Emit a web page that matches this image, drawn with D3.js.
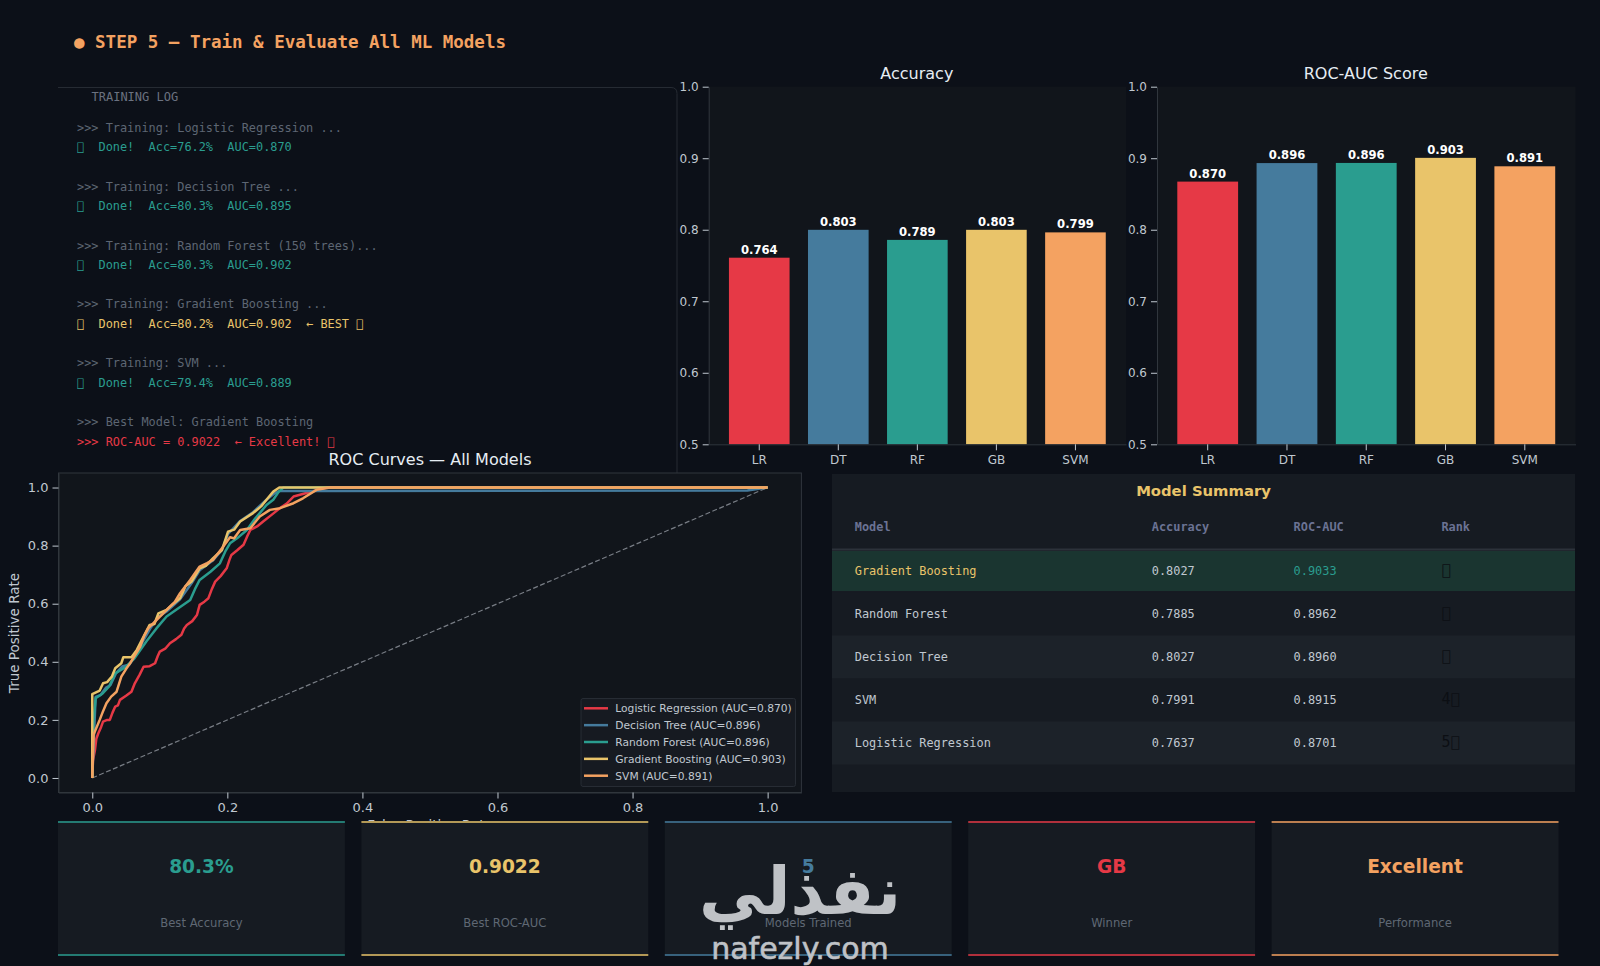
<!DOCTYPE html>
<html>
<head>
<meta charset="utf-8">
<title>STEP 5</title>
<script src="https://cdn.jsdelivr.net/npm/d3@7"></script>
<style>
html, body { margin: 0; padding: 0; background: #0c1018; }
svg { display: block; }
text { font-family: "DejaVu Sans", sans-serif; }
.mono { font-family: "DejaVu Sans Mono", monospace; }
</style>
</head>
<body>
<svg id="chart" width="1600" height="966"></svg>
<script>
var modelCodes = ["LR", "DT", "RF", "GB", "SVM"];
var modelNames = ["Logistic Regression", "Decision Tree", "Random Forest", "Gradient Boosting", "SVM"];
var modelColors = ["#e63946", "#457b9d", "#2a9d8f", "#e9c46a", "#f4a261"];
var accuracy = [0.7637, 0.8027, 0.7886, 0.8027, 0.7991];
var rocAuc = [0.8701, 0.8960, 0.8962, 0.9033, 0.8915];
var barTicks = [0.5, 0.6, 0.7, 0.8, 0.9, 1.0];
var rocTicks = [0, 0.2, 0.4, 0.6, 0.8, 1.0];

/* roc curves: [fpr, tpr] */
var rocLR = [[0,0],[0.001,0.06],[0.004,0.096],[0.006,0.135],[0.009,0.154],[0.013,0.175],[0.016,0.194],[0.022,0.2],[0.026,0.2],[0.03,0.225],[0.034,0.246],[0.038,0.25],[0.041,0.269],[0.05,0.283],[0.058,0.297],[0.063,0.326],[0.07,0.355],[0.076,0.383],[0.085,0.385],[0.093,0.395],[0.097,0.42],[0.1,0.435],[0.108,0.445],[0.115,0.464],[0.124,0.478],[0.132,0.493],[0.136,0.515],[0.14,0.527],[0.148,0.54],[0.155,0.561],[0.159,0.596],[0.166,0.607],[0.172,0.619],[0.177,0.65],[0.182,0.676],[0.19,0.695],[0.199,0.722],[0.203,0.75],[0.206,0.768],[0.215,0.785],[0.224,0.803],[0.229,0.83],[0.234,0.854],[0.244,0.866],[0.253,0.883],[0.265,0.905],[0.278,0.929],[0.288,0.945],[0.298,0.969],[0.317,0.981],[0.347,1],[1,1]];
var rocDT = [[0,0],[0.003,0.17],[0.005,0.279],[0.012,0.285],[0.02,0.31],[0.027,0.32],[0.035,0.36],[0.045,0.385],[0.055,0.39],[0.066,0.43],[0.076,0.475],[0.086,0.515],[0.098,0.555],[0.11,0.573],[0.13,0.615],[0.147,0.67],[0.159,0.715],[0.179,0.75],[0.192,0.785],[0.201,0.84],[0.219,0.885],[0.238,0.915],[0.258,0.958],[0.27,0.98],[0.277,0.988],[0.34,0.988],[0.97,0.99],[1,1]];
var rocRF = [[0,0],[0.002,0.2],[0.005,0.275],[0.015,0.29],[0.025,0.315],[0.034,0.36],[0.048,0.38],[0.062,0.41],[0.08,0.47],[0.095,0.515],[0.11,0.556],[0.128,0.585],[0.145,0.613],[0.152,0.65],[0.159,0.682],[0.175,0.71],[0.189,0.739],[0.197,0.78],[0.204,0.808],[0.217,0.83],[0.229,0.854],[0.24,0.89],[0.248,0.912],[0.258,0.94],[0.268,0.958],[0.276,0.985],[0.283,1],[1,1]];
var rocGB = [[0,0],[0,0.289],[0.011,0.301],[0.016,0.326],[0.022,0.33],[0.029,0.349],[0.034,0.378],[0.043,0.395],[0.046,0.416],[0.058,0.416],[0.066,0.441],[0.076,0.487],[0.085,0.527],[0.092,0.53],[0.098,0.567],[0.11,0.579],[0.12,0.6],[0.13,0.619],[0.138,0.66],[0.147,0.676],[0.159,0.722],[0.168,0.73],[0.179,0.757],[0.192,0.785],[0.197,0.82],[0.201,0.848],[0.21,0.855],[0.219,0.883],[0.238,0.912],[0.25,0.935],[0.258,0.958],[0.268,0.986],[0.277,1],[1,1]];
var rocSVM = [[0,0],[0.002,0.15],[0.011,0.2],[0.016,0.23],[0.021,0.257],[0.028,0.28],[0.036,0.297],[0.043,0.349],[0.05,0.375],[0.056,0.395],[0.071,0.452],[0.077,0.49],[0.083,0.516],[0.098,0.55],[0.115,0.59],[0.122,0.605],[0.13,0.636],[0.145,0.682],[0.159,0.728],[0.17,0.74],[0.179,0.751],[0.194,0.797],[0.204,0.829],[0.21,0.825],[0.219,0.854],[0.234,0.86],[0.248,0.9],[0.263,0.923],[0.278,0.929],[0.298,0.946],[0.312,0.963],[0.332,0.992],[0.352,1],[1,1]];
var rocSeries = [rocLR, rocDT, rocRF, rocGB, rocSVM];

var TOFU = "\uE000"; // the picture shows empty boxes where its emoji failed

var logLines = [
    ">>> Training: Logistic Regression ...",
    TOFU + "  Done!  Acc=76.2%  AUC=0.870",
    "",
    ">>> Training: Decision Tree ...",
    TOFU + "  Done!  Acc=80.3%  AUC=0.895",
    "",
    ">>> Training: Random Forest (150 trees)...",
    TOFU + "  Done!  Acc=80.3%  AUC=0.902",
    "",
    ">>> Training: Gradient Boosting ...",
    TOFU + "  Done!  Acc=80.2%  AUC=0.902  ← BEST " + TOFU,
    "",
    ">>> Training: SVM ...",
    TOFU + "  Done!  Acc=79.4%  AUC=0.889",
    "",
    ">>> Best Model: Gradient Boosting",
    ">>> ROC-AUC = 0.9022  ← Excellent! " + TOFU
];
var logKinds = ["info","ok","","info","ok","","info","ok","","info","best","","info","ok","","info","alert"];

var tableHeader = ["Model", "Accuracy", "ROC-AUC", "Rank"];
var tableOrder = [3, 2, 1, 4, 0];
var tableAccuracy = ["0.8027", "0.7885", "0.8027", "0.7991", "0.7637"];
var tableAuc = ["0.9033", "0.8962", "0.8960", "0.8915", "0.8701"];
var tableRank = [TOFU, TOFU, TOFU, "4" + TOFU, "5" + TOFU];

var cardValues = ["80.3%", "0.9022", "5", "GB", "Excellent"];
var cardLabels = ["Best Accuracy", "Best ROC-AUC", "Models Trained", "Winner", "Performance"];
var cardColors = ["#2a9d8f", "#e9c46a", "#457b9d", "#e63946", "#f4a261"];

var TICK_COLOR = "#c0c8d0";
var SPINE_COLOR = "#30363d";
var PANEL_COLOR = "#11151b";
var CARD_COLOR = "#161b22";
var BAR_TOP_NUDGE = 2; // bars in the picture stop about 2px under their value

var svg = d3.select("#chart");

svg.append("rect").attr("width", 1600).attr("height", 966).attr("fill", "#0c1018");

svg.append("text").attr("class", "mono")
    .attr("x", 74).attr("y", 48)
    .attr("fill", "#f4a261").attr("font-size", 17.5).attr("font-weight", "bold")
    .text("● STEP 5 — Train & Evaluate All ML Models");

/* training log */
svg.append("path")
    .attr("d", "M58,87.5H671Q677,87.5 677,93.5V473")
    .attr("fill", "none").attr("stroke", "#262b33").attr("stroke-width", 1);

svg.append("text").attr("class", "mono")
    .attr("x", 91.5).attr("y", 101)
    .attr("fill", "#6b7280").attr("font-size", 12)
    .text("TRAINING LOG");

var logColor = { info: "#5d6673", ok: "#2a9d8f", best: "#e9c46a", alert: "#e63946" };
var logY = d3.scaleLinear().domain([0, logLines.length - 1]).range([131.7, 446]);

svg.append("g").selectAll("text").data(logLines).join("text")
    .attr("class", "mono")
    .style("white-space", "pre")
    .attr("x", 77)
    .attr("y", function (d, i) { return logY(i); })
    .attr("font-size", 11.9)
    .attr("fill", function (d, i) { return logColor[logKinds[i]] || "none"; })
    .text(function (d) { return d; });

/* accuracy and auc bars */
function styleAxis(g, size) {
    g.selectAll(".domain").attr("stroke", SPINE_COLOR);
    g.selectAll(".tick line").attr("stroke", TICK_COLOR);
    g.selectAll(".tick text").attr("fill", TICK_COLOR).attr("font-size", size)
        .attr("font-family", "'DejaVu Sans', sans-serif");
}

function drawBars(options) {
    var x = d3.scaleBand().domain(modelCodes).range([options.left, options.right])
        .paddingInner(0.233).paddingOuter(0.256);
    var y = d3.scaleLinear().domain([0.5, 1.0]).range([444.3, 86.7]);

    svg.append("rect")
        .attr("x", options.left).attr("y", 86.7)
        .attr("width", options.right - options.left).attr("height", 444.3 - 86.7)
        .attr("fill", PANEL_COLOR);

    var g = svg.append("g");
    g.selectAll("rect").data(options.values).join("rect")
        .attr("x", function (d, i) { return x(modelCodes[i]); })
        .attr("y", function (d) { return y(d) + BAR_TOP_NUDGE; })
        .attr("width", x.bandwidth())
        .attr("height", function (d) { return y(0.5) - y(d) - BAR_TOP_NUDGE; })
        .attr("fill", function (d, i) { return modelColors[i]; });

    g.selectAll("text").data(options.values).join("text")
        .attr("x", function (d, i) { return x(modelCodes[i]) + x.bandwidth() / 2; })
        .attr("y", function (d) { return y(d) + BAR_TOP_NUDGE - 4; })
        .attr("text-anchor", "middle")
        .attr("fill", "#ffffff").attr("font-size", 11.6).attr("font-weight", "bold")
        .text(function (d) { return d.toFixed(3); });

    svg.append("g").attr("transform", "translate(" + options.left + ",0)")
        .call(d3.axisLeft(y).tickValues(barTicks).tickFormat(d3.format(".1f")).tickSizeOuter(0).tickPadding(4))
        .call(styleAxis, 12);

    svg.append("g").attr("transform", "translate(0,444.3)")
        .call(d3.axisBottom(x).tickSizeOuter(0).tickPadding(5))
        .call(styleAxis, 12);

    svg.append("text")
        .attr("x", (options.left + options.right) / 2 - 0.5).attr("y", 79)
        .attr("text-anchor", "middle")
        .attr("fill", "#e6edf3").attr("font-size", 16)
        .text(options.title);
}

drawBars({ title: "Accuracy", values: accuracy, left: 708.7, right: 1126 });
drawBars({ title: "ROC-AUC Score", values: rocAuc, left: 1157, right: 1575.5 });

/* roc curves */
var rocX = d3.scaleLinear().domain([-0.05, 1.05]).range([58.5, 801.4]);
var rocY = d3.scaleLinear().domain([-0.05, 1.05]).range([792.5, 473]);

svg.append("rect")
    .attr("x", rocX.range()[0]).attr("y", rocY.range()[1])
    .attr("width", rocX.range()[1] - rocX.range()[0]).attr("height", rocY.range()[0] - rocY.range()[1])
    .attr("fill", PANEL_COLOR).attr("stroke", SPINE_COLOR).attr("stroke-width", 1);

svg.append("g").attr("transform", "translate(58.5,0)")
    .call(d3.axisLeft(rocY).tickValues(rocTicks).tickFormat(d3.format(".1f")).tickSizeOuter(0).tickPadding(4))
    .call(styleAxis, 13);

svg.append("g").attr("transform", "translate(0,792.5)")
    .call(d3.axisBottom(rocX).tickValues(rocTicks).tickFormat(d3.format(".1f")).tickSizeOuter(0).tickPadding(4))
    .call(styleAxis, 13);

var rocLine = d3.line()
    .x(function (d) { return rocX(d[0]); })
    .y(function (d) { return rocY(d[1]); });

svg.append("path")
    .attr("d", rocLine([[0, 0], [1, 1]]))
    .attr("fill", "none").attr("stroke", "#787d85").attr("stroke-width", 1.2)
    .attr("stroke-dasharray", "5,2.5");

svg.append("g").selectAll("path").data(rocSeries).join("path")
    .attr("d", rocLine)
    .attr("fill", "none")
    .attr("stroke", function (d, i) { return modelColors[i]; })
    .attr("stroke-width", 2.5)
    .attr("stroke-linejoin", "round");

svg.append("text")
    .attr("x", 430).attr("y", 465)
    .attr("text-anchor", "middle")
    .attr("fill", "#e6edf3").attr("font-size", 16)
    .text("ROC Curves — All Models");

svg.append("text")
    .attr("transform", "translate(19,633) rotate(-90)")
    .attr("text-anchor", "middle")
    .attr("fill", TICK_COLOR).attr("font-size", 13.5)
    .text("True Positive Rate");

svg.append("text")
    .attr("x", 430).attr("y", 830)
    .attr("text-anchor", "middle")
    .attr("fill", TICK_COLOR).attr("font-size", 13.5)
    .text("False Positive Rate");

/* legend */
var legend = svg.append("g");
legend.append("rect")
    .attr("x", 581).attr("y", 698.5).attr("width", 214.5).attr("height", 88).attr("rx", 2)
    .attr("fill", "#161a21").attr("stroke", "#272c34");

var legendY = d3.scaleLinear().domain([0, 4]).range([708.3, 775.7]);
var legendAuc = ["0.870", "0.896", "0.896", "0.903", "0.891"];

legend.selectAll("line").data(modelNames).join("line")
    .attr("x1", 584).attr("x2", 608)
    .attr("y1", function (d, i) { return legendY(i); })
    .attr("y2", function (d, i) { return legendY(i); })
    .attr("stroke", function (d, i) { return modelColors[i]; })
    .attr("stroke-width", 2.5);

legend.selectAll("text").data(modelNames).join("text")
    .attr("x", 615.3)
    .attr("y", function (d, i) { return legendY(i) + 3.8; })
    .attr("fill", TICK_COLOR).attr("font-size", 10.7)
    .text(function (d, i) { return d + " (AUC=" + legendAuc[i] + ")"; });

/* summary table */
svg.append("rect")
    .attr("x", 832).attr("y", 474).attr("width", 743).attr("height", 318)
    .attr("fill", CARD_COLOR);

svg.append("text")
    .attr("x", 1203.5).attr("y", 496)
    .attr("text-anchor", "middle")
    .attr("fill", "#e9c46a").attr("font-size", 14.8).attr("font-weight", "bold")
    .text("Model Summary");

var columnX = [854.8, 1151.8, 1293.6, 1441.4];

svg.append("g").selectAll("text").data(tableHeader).join("text")
    .attr("class", "mono")
    .attr("x", function (d, i) { return columnX[i]; })
    .attr("y", 530.5)
    .attr("fill", "#6b7394").attr("font-size", 11.9).attr("font-weight", "bold")
    .text(function (d) { return d; });

svg.append("line")
    .attr("x1", 832).attr("x2", 1575).attr("y1", 549.5).attr("y2", 549.5)
    .attr("stroke", "#2c323a").attr("stroke-width", 2);

var rowBands = d3.scaleBand().domain(d3.range(tableOrder.length)).range([549.5, 764.5]);
var rowFill = ["#1a3530", "#161b22", "#1c2229", "#161b22", "#1c2229"];
var rows = svg.append("g").selectAll("g").data(tableOrder).join("g")
    .attr("transform", function (d, i) { return "translate(0," + rowBands(i) + ")"; });

rows.append("rect")
    .attr("x", 832)
    .attr("y", function (d, i) { return i === 0 ? 1.5 : 0; })
    .attr("width", 743)
    .attr("height", function (d, i) { return i === 0 ? 40 : rowBands.bandwidth(); })
    .attr("fill", function (d, i) { return rowFill[i]; });

function rowText(column, size, textFn, colorFn) {
    rows.append("text").attr("class", "mono")
        .attr("x", columnX[column])
        .attr("y", rowBands.bandwidth() / 2 + 4.3)
        .attr("font-size", size)
        .attr("fill", colorFn)
        .text(textFn);
}

rowText(0, 11.9, function (d) { return modelNames[d]; }, function (d, i) { return i === 0 ? "#e9c46a" : TICK_COLOR; });
rowText(1, 11.9, function (d, i) { return tableAccuracy[i]; }, function () { return TICK_COLOR; });
rowText(2, 11.9, function (d, i) { return tableAuc[i]; }, function (d, i) { return i === 0 ? "#2a9d8f" : TICK_COLOR; });
rowText(3, 15, function (d, i) { return tableRank[i]; }, function () { return "#0c0f14"; });

/* bottom cards */
var cardX = d3.scaleBand().domain(d3.range(cardValues.length)).range([58, 1558.5]).paddingInner(0.0545);
var cards = svg.append("g").selectAll("g").data(cardValues).join("g")
    .attr("transform", function (d, i) { return "translate(" + cardX(i) + ",821)"; });

cards.append("rect")
    .attr("width", cardX.bandwidth()).attr("height", 134.5)
    .attr("fill", CARD_COLOR);

cards.append("line")
    .attr("x2", cardX.bandwidth()).attr("y1", 1).attr("y2", 1)
    .attr("stroke", function (d, i) { return cardColors[i]; }).attr("stroke-width", 1.5);

cards.append("line")
    .attr("x2", cardX.bandwidth()).attr("y1", 134).attr("y2", 134)
    .attr("stroke", function (d, i) { return cardColors[i]; }).attr("stroke-width", 1.5);

cards.append("text")
    .attr("x", cardX.bandwidth() / 2).attr("y", 51.5)
    .attr("text-anchor", "middle")
    .attr("fill", function (d, i) { return cardColors[i]; })
    .attr("font-size", 18.6).attr("font-weight", "bold")
    .text(function (d) { return d; });

cards.append("text")
    .attr("x", cardX.bandwidth() / 2).attr("y", 106)
    .attr("text-anchor", "middle")
    .attr("fill", "#5f6874").attr("font-size", 11.6)
    .text(function (d, i) { return cardLabels[i]; });

/* site mark over the cards */
svg.append("text")
    .attr("x", 800).attr("y", 914)
    .attr("text-anchor", "middle").attr("direction", "rtl")
    .attr("fill", "#bfc2c6").attr("font-size", 66).attr("font-weight", "bold")
    .text("نفذلي");

svg.append("text")
    .attr("x", 800).attr("y", 959)
    .attr("text-anchor", "middle")
    .attr("fill", "#bfc2c6").attr("stroke", "#bfc2c6").attr("stroke-width", 0.6).attr("font-size", 30)
    .text("nafezly.com");
</script>
</body>
</html>
